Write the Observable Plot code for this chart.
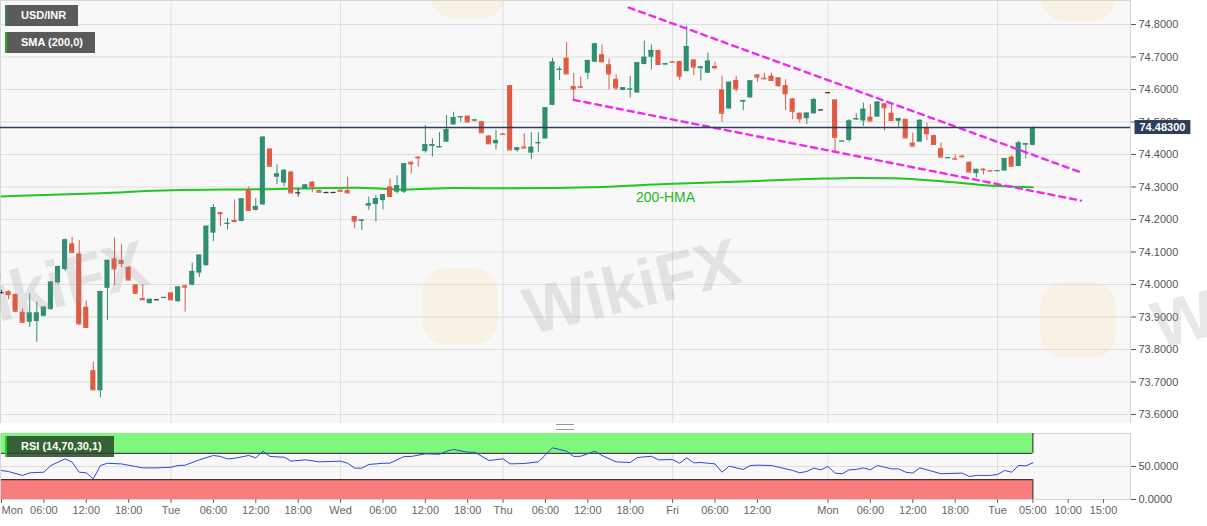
<!DOCTYPE html>
<html>
<head>
<meta charset="utf-8">
<script src="https://cdn.jsdelivr.net/npm/d3@7"></script>
<script src="https://cdn.jsdelivr.net/npm/@observablehq/plot@0.6"></script>
<style>
  body { margin: 0; background: #fff; font-family: "Liberation Sans", Arial, sans-serif; }
  #wrap { position: relative; width: 1207px; height: 526px; overflow: hidden; }
  #main, #rsi { line-height: 0; }
  .tag { position: absolute; left: 5px; height: 21px; line-height: 21px; padding: 0 12px 0 14px;
         background: #5b5b5b; color: #fff; font-weight: bold; font-size: 11px; box-sizing: border-box;
         border-left: 2px solid #3d7a77; white-space: nowrap; }
  .wm { position: absolute; font-weight: bold; font-size: 66px; color: rgba(150,150,150,.22);
        transform: rotate(-14deg); white-space: nowrap; pointer-events: none; }
  .logo { position: absolute; width: 76px; height: 76px; border-radius: 24px; background: rgba(250,212,130,.16); pointer-events: none; }
  .grip { position: absolute; left: 556px; top: 424px; width: 18px; height: 4px;
          border-top: 1px solid #999; border-bottom: 1px solid #999; }
</style>
</head>
<body>
<div id="wrap">
  <div id="main"></div>
  <div id="rsi"></div>
  <div class="logo" style="left:422px;top:268px"></div>
  <div class="logo" style="left:1040px;top:282px"></div>
  <div class="logo" style="left:430px;top:-58px"></div>
  <div class="logo" style="left:1040px;top:-55px"></div>
  <div class="wm" style="left:522px;top:248px">WikiFX</div>
  <div class="wm" style="left:-70px;top:250px">WikiFX</div>
  <div class="wm" style="left:1150px;top:262px">WikiFX</div>
  <div class="tag" style="top:5px">USD/INR</div>
  <div class="tag" style="top:32px;border-left-color:#22b022">SMA (200,0)</div>
  <div class="tag" style="top:436px;background:rgba(40,70,40,.85);border-left-color:#22cc22">RSI (14,70,30,1)</div>
  <div class="grip"></div>
</div>
<script>
// hourly candles, bar index = position in the arrays
const opens = [
  73.975, 73.978, 73.969, 73.915, 73.884, 73.886, 73.902, 73.923, 74.005, 74.046,
  74.125, 74.094, 73.930, 73.735, 73.673, 73.988, 74.079, 74.074, 74.053, 73.999,
  73.957, 73.941, 73.953, 73.958, 73.974, 73.947, 73.996, 73.998, 74.035, 74.058,
  74.158, 74.221, 74.186, 74.197, 74.194, 74.291, 74.228, 74.245, 74.417, 74.330,
  74.312, 74.346, 74.282, 74.294, 74.315, 74.289, 74.283, 74.283, 74.290, 74.289,
  74.209, 74.195, 74.241, 74.246, 74.258, 74.300, 74.284, 74.284, 74.376, 74.392,
  74.409, 74.425, 74.421, 74.438, 74.491, 74.514, 74.518, 74.504, 74.501, 74.457,
  74.433, 74.463, 74.612, 74.412, 74.423, 74.404, 74.434, 74.448, 74.551, 74.659,
  74.696, 74.609, 74.609, 74.650, 74.684, 74.707, 74.676, 74.631, 74.597, 74.600,
  74.589, 74.677, 74.699, 74.720, 74.676, 74.685, 74.686, 74.655, 74.691, 74.664,
  74.650, 74.671, 74.599, 74.540, 74.628, 74.561, 74.574, 74.645, 74.635, 74.641,
  74.636, 74.612, 74.571, 74.527, 74.510, 74.525, 74.537, 74.590, 74.568, 74.440,
  74.443, 74.507, 74.503, 74.515, 74.515, 74.556, 74.527, 74.502, 74.508, 74.435,
  74.438, 74.481, 74.458, 74.418, 74.389, 74.387, 74.395, 74.376, 74.341, 74.355,
  74.350, 74.349, 74.349, 74.392, 74.363, 74.429, 74.428
];
const highs = [
  73.982, 73.981, 73.971, 73.925, 73.971, 73.945, 73.932, 74.009, 74.057, 74.140,
  74.145, 74.135, 73.950, 73.761, 73.980, 74.076, 74.143, 74.122, 74.056, 74.000,
  73.999, 73.956, 73.954, 73.961, 73.976, 73.993, 73.998, 74.066, 74.092, 74.180,
  74.246, 74.222, 74.204, 74.260, 74.264, 74.300, 74.265, 74.455, 74.418, 74.368,
  74.354, 74.348, 74.294, 74.307, 74.316, 74.290, 74.284, 74.284, 74.291, 74.330,
  74.210, 74.199, 74.269, 74.274, 74.277, 74.325, 74.335, 74.373, 74.377, 74.393,
  74.489, 74.448, 74.467, 74.520, 74.530, 74.516, 74.519, 74.507, 74.502, 74.458,
  74.474, 74.464, 74.613, 74.421, 74.464, 74.467, 74.467, 74.545, 74.696, 74.669,
  74.744, 74.650, 74.638, 74.690, 74.742, 74.737, 74.694, 74.645, 74.606, 74.640,
  74.683, 74.749, 74.737, 74.721, 74.680, 74.686, 74.687, 74.795, 74.692, 74.670,
  74.712, 74.684, 74.641, 74.623, 74.640, 74.567, 74.627, 74.646, 74.650, 74.650,
  74.637, 74.630, 74.572, 74.528, 74.528, 74.573, 74.538, 74.591, 74.569, 74.441,
  74.507, 74.525, 74.558, 74.554, 74.562, 74.557, 74.551, 74.511, 74.509, 74.466,
  74.506, 74.496, 74.459, 74.435, 74.391, 74.399, 74.398, 74.377, 74.355, 74.356,
  74.351, 74.351, 74.388, 74.397, 74.441, 74.434, 74.484
];
const lows = [
  73.970, 73.953, 73.915, 73.881, 73.868, 73.822, 73.900, 73.920, 74.000, 74.040,
  74.095, 73.875, 73.865, 73.674, 73.651, 73.889, 73.997, 74.051, 74.012, 73.970,
  73.952, 73.940, 73.952, 73.957, 73.952, 73.946, 73.915, 73.996, 74.022, 74.056,
  74.132, 74.178, 74.168, 74.193, 74.193, 74.227, 74.226, 74.243, 74.364, 74.307,
  74.301, 74.282, 74.269, 74.293, 74.282, 74.283, 74.282, 74.282, 74.286, 74.281,
  74.171, 74.166, 74.228, 74.192, 74.230, 74.269, 74.279, 74.280, 74.340, 74.361,
  74.404, 74.392, 74.420, 74.437, 74.490, 74.500, 74.500, 74.500, 74.467, 74.433,
  74.414, 74.461, 74.414, 74.407, 74.420, 74.384, 74.407, 74.447, 74.550, 74.628,
  74.647, 74.568, 74.606, 74.630, 74.683, 74.681, 74.599, 74.597, 74.596, 74.574,
  74.588, 74.676, 74.660, 74.677, 74.675, 74.683, 74.628, 74.654, 74.643, 74.626,
  74.649, 74.661, 74.499, 74.539, 74.592, 74.535, 74.573, 74.622, 74.632, 74.627,
  74.607, 74.535, 74.507, 74.496, 74.492, 74.524, 74.536, 74.589, 74.407, 74.439,
  74.438, 74.505, 74.486, 74.502, 74.514, 74.472, 74.504, 74.484, 74.451, 74.425,
  74.437, 74.443, 74.431, 74.391, 74.388, 74.381, 74.390, 74.346, 74.328, 74.337,
  74.348, 74.348, 74.348, 74.364, 74.362, 74.387, 74.427
];
const closes = [
  73.975, 73.969, 73.918, 73.884, 73.912, 73.912, 73.930, 74.007, 74.055, 74.137,
  74.099, 73.879, 73.868, 73.676, 73.978, 74.074, 74.048, 74.065, 74.014, 73.973,
  73.953, 73.954, 73.953, 73.960, 73.953, 73.992, 73.992, 74.040, 74.090, 74.179,
  74.236, 74.218, 74.188, 74.194, 74.263, 74.228, 74.240, 74.453, 74.364, 74.340,
  74.351, 74.282, 74.282, 74.306, 74.300, 74.284, 74.283, 74.283, 74.287, 74.282,
  74.195, 74.198, 74.248, 74.264, 74.276, 74.271, 74.304, 74.371, 74.371, 74.390,
  74.430, 74.430, 74.424, 74.476, 74.513, 74.516, 74.500, 74.506, 74.467, 74.433,
  74.443, 74.462, 74.414, 74.420, 74.420, 74.422, 74.436, 74.543, 74.684, 74.662,
  74.648, 74.602, 74.607, 74.689, 74.740, 74.686, 74.648, 74.605, 74.605, 74.601,
  74.682, 74.699, 74.720, 74.677, 74.679, 74.684, 74.641, 74.732, 74.669, 74.669,
  74.687, 74.667, 74.527, 74.622, 74.602, 74.566, 74.626, 74.638, 74.633, 74.628,
  74.612, 74.587, 74.533, 74.510, 74.527, 74.569, 74.537, 74.590, 74.453, 74.441,
  74.503, 74.510, 74.539, 74.503, 74.561, 74.544, 74.505, 74.510, 74.451, 74.426,
  74.505, 74.464, 74.431, 74.392, 74.390, 74.386, 74.393, 74.346, 74.354, 74.353,
  74.349, 74.350, 74.387, 74.364, 74.435, 74.433, 74.483
];

// 200-period moving average, read at a few bars
const smaBars   = [0, 14, 24, 37, 50, 57, 64, 72, 85, 94, 106, 115, 121, 126, 133, 138, 142, 146];
const smaValues = [74.271, 74.281, 74.290, 74.293, 74.298, 74.292, 74.297, 74.296, 74.300, 74.309,
                   74.318, 74.325, 74.328, 74.327, 74.318, 74.308, 74.302, 74.299];

// RSI(14) line, read at its turning points
const rsiBars = [0, 1, 3, 4, 6, 7, 8, 9, 10, 11, 12, 13, 14, 15, 17, 19, 20, 22, 24, 25,
  26, 28, 30, 31, 32, 33, 35, 36, 37, 38, 40, 41, 43, 45, 48, 49, 50, 51, 52, 54,
  55, 57, 58, 60, 62, 63, 64, 66, 67, 69, 71, 72, 74, 76, 78, 80, 81, 82, 84, 85,
  87, 88, 89, 90, 92, 93, 95, 96, 97, 98, 99, 101, 102, 103, 105, 106, 107, 109, 110, 112,
  113, 114, 115, 116, 117, 118, 119, 120, 121, 122, 123, 124, 125, 126, 127, 128, 129, 130, 131, 133,
  136, 137, 138, 140, 141, 142, 143, 144, 145, 146];
const rsiValues = [43.9, 42.4, 36.4, 40.4, 41.4, 51.5, 56.6, 61.6, 56.6, 41.4, 40.4, 31.3, 51.5, 54.9, 53.9, 49.9, 47.9, 47.9, 48.9, 51.5,
  52.0, 60.1, 66.7, 65.2, 61.6, 62.5, 66.7, 63.1, 73.2, 65.2, 64.1, 58.1, 60.1, 57.1, 58.1, 54.9, 47.5, 47.5, 53.1, 54.9,
  55.0, 65.2, 65.2, 69.2, 68.5, 73.2, 75.8, 71.7, 71.7, 59.1, 61.6, 54.0, 54.5, 57.1, 78.3, 73.2, 65.2, 65.5, 73.2, 66.7,
  57.1, 56.5, 56.0, 63.6, 65.5, 60.1, 60.5, 55.0, 63.1, 55.6, 56.0, 54.0, 41.4, 50.5, 45.5, 51.5, 52.0, 51.5, 49.0, 44.0,
  40.4, 42.5, 47.5, 45.0, 50.0, 40.0, 39.0, 45.0, 45.5, 47.9, 45.0, 51.5, 49.0, 46.4, 46.4, 41.4, 40.0, 47.9, 45.0, 39.0,
  40.0, 34.8, 36.5, 36.5, 37.9, 44.0, 41.4, 51.5, 51.0, 55.6];
const rsiHigh = 70, rsiLow = 30;

// falling wedge trend lines (bar, price)
const upperBars = [88.8, 152.8], upperPrices = [74.852, 74.345];
const lowerBars = [81, 152.8],   lowerPrices = [74.568, 74.258];

// time axis
const tickBars = [0, 6, 12, 18, 24, 30, 36, 42, 48, 54, 60, 66, 71, 77, 83, 89, 95, 101, 107,
                  117, 123, 129, 135, 141, 146, 151, 156];
const tickLabels = ["Mon", "06:00", "12:00", "18:00", "Tue", "06:00", "12:00", "18:00", "Wed", "06:00",
  "12:00", "18:00", "Thu", "06:00", "12:00", "18:00", "Fri", "06:00", "12:00",
  "Mon", "06:00", "12:00", "18:00", "Tue", "05:00", "10:00", "15:00"];
const dayBars = [24, 48, 71, 95, 117, 141];
const priceTicks = [73.6, 73.7, 73.8, 73.9, 74.0, 74.1, 74.2, 74.3, 74.4, 74.5, 74.6, 74.7, 74.8];
const rsiTicks = [0, 50];

const candles = opens.map((o, i) => ({i, open: o, high: highs[i], low: lows[i], close: closes[i]}));
const sma = smaBars.map((b, i) => ({bar: b, value: smaValues[i]}));
const rsi = rsiBars.map((b, i) => ({bar: b, value: rsiValues[i]}));
const upper = upperBars.map((b, i) => ({bar: b, price: upperPrices[i]}));
const lower = lowerBars.map((b, i) => ({bar: b, price: lowerPrices[i]}));
const last = closes[closes.length - 1];
const lastBar = candles.length - 1;
const labelOf = new Map(tickBars.map((b, i) => [b, tickLabels[i]]));

const up = "#2f8f73", down = "#e05a44";
const col = d => d.close > d.open ? up : d.close < d.open ? down : "#333";
const xDomain = [-0.14, 159.82];
const style = {background: "transparent", fontFamily: "Liberation Sans, Arial, sans-serif", fontSize: "11px", color: "#555"};

const main = Plot.plot({
  width: 1207, height: 423,
  marginTop: 0, marginBottom: 0, marginLeft: 0, marginRight: 77,
  style,
  x: {domain: xDomain, axis: null},
  y: {domain: [73.5723, 74.8738], axis: null},
  marks: [
    Plot.frame({fill: "#f8f8f8", stroke: "#d6d6d6"}),
    Plot.gridY(priceTicks, {stroke: "#dedede", strokeOpacity: 1}),
    Plot.gridX(dayBars, {stroke: "#dedede", strokeOpacity: 1}),
    Plot.axisY(priceTicks, {anchor: "right", label: null, tickFormat: d => d.toFixed(4), tickSize: 5, tickPadding: 3, fontSize: 11}),
    Plot.line(sma, {x: "bar", y: "value", stroke: "#1ec81e", strokeWidth: 2, curve: "monotone-x"}),
    Plot.text(sma.filter(d => d.bar === 94), {x: "bar", y: "value", text: () => "200-HMA", dy: 13, fill: "#1fb81f", fontSize: 14}),
    Plot.ruleX(candles, {x: "i", y1: "low", y2: "high", stroke: col, strokeWidth: 1}),
    Plot.rect(candles, {x1: d => d.i - 0.36, x2: d => d.i + 0.36, y1: "open", y2: "close", fill: col}),
    Plot.ruleY(candles, {y: "close", x1: d => d.i - 0.36, x2: d => d.i + 0.36, stroke: col, strokeWidth: 1.2}),
    Plot.line(upper, {x: "bar", y: "price", stroke: "#ee2aee", strokeWidth: 2.4, strokeDasharray: "6,5"}),
    Plot.line(lower, {x: "bar", y: "price", stroke: "#ee2aee", strokeWidth: 2.4, strokeDasharray: "6,5"}),
    Plot.ruleY([last], {stroke: "#2c3e5c", strokeWidth: 1.3}),
    Plot.text([last], {y: d => d, frameAnchor: "right", dx: 9, textAnchor: "start", text: d => d.toFixed(5),
      fill: "white", fontWeight: "bold", fontSize: 11})
  ]
});
document.getElementById("main").append(main);

// dark box behind the last price label, drawn in the label's own coordinates
const tagText = Array.from(main.querySelectorAll("text")).find(t => t.textContent === last.toFixed(5));
if (tagText) {
  const bb = tagText.getBBox();
  const box = document.createElementNS("http://www.w3.org/2000/svg", "rect");
  box.setAttribute("x", bb.x - 5);
  box.setAttribute("y", bb.y - 1);
  box.setAttribute("width", bb.width + 10);
  box.setAttribute("height", bb.height + 2);
  box.setAttribute("fill", "#2c3e5c");
  const tr = tagText.getAttribute("transform");
  if (tr) box.setAttribute("transform", tr);
  tagText.parentNode.insertBefore(box, tagText);
}

const lower2 = Plot.plot({
  width: 1207, height: 103,
  marginTop: 10, marginBottom: 27, marginLeft: 0, marginRight: 77,
  style,
  x: {domain: xDomain, axis: null},
  y: {domain: [0, 100], axis: null},
  marks: [
    Plot.frame({fill: "#f8f8f8", stroke: "#d6d6d6"}),
    Plot.gridX(dayBars, {stroke: "#dedede", strokeOpacity: 1}),
    Plot.gridY([50], {stroke: "#dedede", strokeOpacity: 1}),
    Plot.rect([0], {x1: 0, x2: lastBar, y1: rsiHigh, y2: 100, fill: "#7ff77f"}),
    Plot.rect([0], {x1: 0, x2: lastBar, y1: 0, y2: rsiLow, fill: "#fa7d7d"}),
    Plot.ruleY([rsiHigh, rsiLow], {x1: 0, x2: lastBar, stroke: "#1a1a1a", strokeWidth: 1}),
    Plot.ruleX([lastBar], {y1: rsiHigh, y2: 100, stroke: "#1a1a1a", strokeWidth: 1}),
    Plot.ruleX([lastBar], {y1: 0, y2: rsiLow, stroke: "#1a1a1a", strokeWidth: 1}),
    Plot.line(rsi, {x: "bar", y: "value", stroke: "#3147d6", strokeWidth: 1}),
    Plot.axisY(rsiTicks, {anchor: "right", label: null, tickFormat: d => d.toFixed(4), tickSize: 5, tickPadding: 3, fontSize: 11}),
    Plot.axisX(tickBars, {anchor: "bottom", label: null, tickFormat: d => labelOf.get(d), tickSize: 4, tickPadding: 3, fontSize: 11, color: "#666"})
  ]
});
document.getElementById("rsi").append(lower2);

// first label sits against the left edge
const firstLabel = Array.from(lower2.querySelectorAll("text")).find(t => t.textContent === "Mon");
if (firstLabel) firstLabel.setAttribute("text-anchor", "start");
</script>
</body>
</html>
